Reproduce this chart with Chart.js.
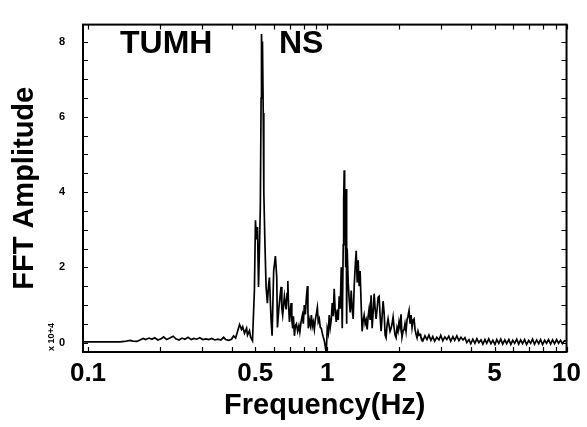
<!DOCTYPE html>
<html>
<head>
<meta charset="utf-8">
<script src="https://cdn.jsdelivr.net/npm/chart.js@4"></script>
<style>
  html, body { margin: 0; padding: 0; background: #fff; }
  #wrap { width: 587px; height: 427px; }
</style>
</head>
<body>
<div id="wrap"><canvas id="fftChart"></canvas></div>
<script>
// frecuencias (Hz) y amplitud FFT (x 10^4)
const freqHz = [
  0.096, 0.102, 0.112, 0.124, 0.136, 0.142, 0.150, 0.154, 0.160, 0.165,
  0.170, 0.174, 0.180, 0.185, 0.190, 0.196, 0.202, 0.207, 0.213, 0.220,
  0.227, 0.233, 0.240, 0.247, 0.254, 0.262, 0.270, 0.277, 0.285, 0.293,
  0.302, 0.311, 0.320, 0.329, 0.339, 0.349, 0.359, 0.369, 0.376, 0.387,
  0.398, 0.406, 0.414, 0.422, 0.430, 0.438, 0.443, 0.451, 0.460, 0.464,
  0.473, 0.478, 0.487, 0.496, 0.501, 0.506, 0.511, 0.516, 0.521, 0.525,
  0.529, 0.531, 0.534, 0.536, 0.540, 0.543, 0.549, 0.555, 0.562, 0.568,
  0.573, 0.579, 0.582, 0.588, 0.597, 0.607, 0.615, 0.619, 0.627, 0.634,
  0.641, 0.646, 0.651, 0.662, 0.673, 0.679, 0.684, 0.689, 0.695, 0.702,
  0.706, 0.711, 0.717, 0.722, 0.729, 0.736, 0.743, 0.752, 0.761, 0.768,
  0.777, 0.787, 0.794, 0.802, 0.810, 0.818, 0.826, 0.830, 0.833, 0.841,
  0.850, 0.858, 0.866, 0.874, 0.883, 0.891, 0.900, 0.909, 0.917, 0.926,
  0.935, 0.944, 0.953, 0.962, 0.972, 0.981, 0.990, 1.000, 1.010, 1.019,
  1.029, 1.039, 1.049, 1.059, 1.069, 1.080, 1.090, 1.101, 1.111, 1.122,
  1.133, 1.144, 1.155, 1.166, 1.171, 1.177, 1.182, 1.188, 1.194, 1.200,
  1.205, 1.211, 1.223, 1.235, 1.247, 1.259, 1.271, 1.283, 1.296, 1.308,
  1.321, 1.334, 1.346, 1.359, 1.372, 1.386, 1.399, 1.413, 1.426, 1.440,
  1.454, 1.468, 1.482, 1.496, 1.511, 1.525, 1.540, 1.555, 1.570, 1.585,
  1.600, 1.616, 1.631, 1.647, 1.663, 1.679, 1.695, 1.711, 1.728, 1.745,
  1.761, 1.778, 1.795, 1.813, 1.830, 1.848, 1.866, 1.884, 1.902, 1.920,
  1.939, 1.957, 1.976, 1.995, 2.014, 2.034, 2.053, 2.073, 2.094, 2.113,
  2.134, 2.154, 2.175, 2.197, 2.218, 2.239, 2.261, 2.283, 2.305, 2.327,
  2.350, 2.372, 2.395, 2.418, 2.441, 2.46, 2.51, 2.56, 2.61, 2.66,
  2.71, 2.76, 2.81, 2.87, 2.93, 2.98, 3.04, 3.10, 3.16, 3.22,
  3.28, 3.35, 3.41, 3.48, 3.55, 3.62, 3.69, 3.76, 3.83, 3.91,
  3.98, 4.06, 4.14, 4.22, 4.30, 4.39, 4.47, 4.56, 4.64, 4.73,
  4.83, 4.92, 5.02, 5.11, 5.21, 5.31, 5.41, 5.52, 5.62, 5.74,
  5.85, 5.96, 6.07, 6.19, 6.31, 6.43, 6.55, 6.68, 6.81, 6.95,
  7.08, 7.21, 7.35, 7.50, 7.65, 7.79, 7.94, 8.10, 8.25, 8.41,
  8.58, 8.74, 8.91, 9.09, 9.26, 9.44, 9.62, 9.80, 10.0
];
const fftAmp = [
  0.02, 0.02, 0.02, 0.02, 0.02, 0.03, 0.06, 0.04, 0.03, 0.07,
  0.11, 0.08, 0.12, 0.09, 0.13, 0.07, 0.10, 0.15, 0.08, 0.12,
  0.17, 0.10, 0.07, 0.12, 0.09, 0.14, 0.08, 0.11, 0.09, 0.13,
  0.08, 0.10, 0.08, 0.11, 0.07, 0.09, 0.07, 0.14, 0.08, 0.06,
  0.09, 0.18, 0.12, 0.30, 0.48, 0.35, 0.42, 0.25, 0.38, 0.20,
  0.32, 0.15, 0.05, 1.40, 3.25, 2.74, 3.07, 1.48, 2.60, 3.57,
  6.50, 8.20, 7.60, 8.00, 6.10, 4.00, 2.60, 1.48, 1.05, 1.50,
  1.73, 1.00, 0.63, 0.18, 1.90, 2.30, 1.73, 0.40, 0.88, 1.20,
  1.48, 0.90, 0.73, 1.23, 0.88, 1.30, 1.64, 1.00, 0.55, 0.90,
  1.05, 0.60, 0.38, 0.70, 0.18, 0.45, 0.50, 0.30, 0.45, 0.28,
  0.55, 0.73, 0.50, 1.00, 0.75, 1.20, 1.50, 0.90, 0.38, 0.60,
  0.45, 0.73, 0.43, 0.55, 0.35, 0.60, 0.75, 0.93, 0.55, 0.63,
  0.40, 0.38, 0.25, 0.15, 0.05, -0.10, -0.28, 0.38, 0.25, 0.73,
  0.40, 0.60, 1.05, 0.70, 1.43, 0.80, 0.55, 0.88, 0.60, 1.23,
  0.90, 2.00, 0.38, 2.60, 3.80, 4.58, 3.90, 3.40, 2.00, 4.08,
  0.50, 2.50, 1.60, 1.13, 0.80, 1.38, 0.90, 0.63, 1.50, 2.00,
  2.44, 1.60, 2.19, 1.50, 1.90, 0.98, 0.30, 0.60, 0.73, 0.50,
  0.60, 0.35, 0.70, 0.90, 0.60, 1.26, 0.38, 0.80, 1.30, 0.90,
  0.63, 0.90, 1.20, 1.23, 0.70, 0.30, 0.70, 1.10, 0.80, 0.20,
  0.13, 0.47, 0.63, 0.45, 0.30, 0.38, 0.50, 0.68, 0.40, 0.20,
  0.13, 0.40, 0.30, 0.55, 0.40, 0.75, 0.15, 0.30, 0.35, 0.50,
  0.30, 0.60, 0.70, 0.85, 0.50, 0.73, 0.40, 0.60, 0.63, 0.35,
  0.22, 0.13, 0.30, 0.20, 0.22, 0.15, 0.05, 0.18, 0.08, 0.20,
  0.06, 0.16, 0.04, 0.14, 0.07, 0.19, 0.05, 0.15, 0.08, 0.17,
  0.04, 0.16, 0.06, 0.18, 0.05, 0.14, 0.07, 0.13, 0.00, 0.08,
  -0.03, 0.09, -0.02, 0.10, 0.00, 0.07, -0.04, 0.08, -0.02, 0.10,
  -0.03, 0.06, -0.05, 0.08, -0.02, 0.09, -0.04, 0.07, -0.03, 0.08,
  -0.05, 0.06, -0.02, 0.09, -0.04, 0.07, -0.03, 0.08, -0.05, 0.06,
  -0.02, 0.09, -0.04, 0.07, -0.03, 0.08, -0.05, 0.06, -0.02, 0.08,
  -0.04, 0.07, -0.03, 0.08, -0.02, 0.06, -0.03, 0.05, 0.04
];

// marcas de los ejes
const xTicks = [0.1, 0.2, 0.3, 0.4, 0.5, 0.6, 0.7, 0.8, 0.9, 1, 2, 3, 4, 5, 6, 7, 8, 9, 10];
const xTickLabels = [0.1, 0.5, 1, 2, 5, 10];
const yTicks = [0, 0.5, 1, 1.5, 2, 2.5, 3, 3.5, 4, 4.5, 5, 5.5, 6, 6.5, 7, 7.5, 8];
const yTickLabels = [0, 2, 4, 6, 8];

const fuente = '"Liberation Sans", Arial, Helvetica, sans-serif';

// marco, marcas hacia adentro y textos sueltos
const marcoPlugin = {
  id: 'marco',
  afterDraw(chart) {
    const ctx = chart.ctx;
    const a = chart.chartArea;
    const sx = chart.scales.x;
    const sy = chart.scales.y;
    ctx.save();
    ctx.strokeStyle = '#000';
    ctx.lineWidth = 1.2;
    xTicks.forEach((v) => {
      const px = Math.round(sx.getPixelForValue(v)) + 0.5;
      ctx.beginPath();
      ctx.moveTo(px, a.bottom); ctx.lineTo(px, a.bottom - 5);
      ctx.moveTo(px, a.top); ctx.lineTo(px, a.top + 5);
      ctx.stroke();
    });
    yTicks.forEach((v) => {
      const py = Math.round(sy.getPixelForValue(v)) + 0.5;
      ctx.beginPath();
      ctx.moveTo(a.left, py); ctx.lineTo(a.left + 5, py);
      ctx.moveTo(a.right, py); ctx.lineTo(a.right - 5, py);
      ctx.stroke();
    });
    ctx.lineWidth = 2;
    ctx.strokeRect(a.left, a.top, a.right - a.left, a.bottom - a.top);

    ctx.fillStyle = '#000';
    ctx.textBaseline = 'alphabetic';
    ctx.textAlign = 'left';
    ctx.font = 'bold 32px ' + fuente;
    ctx.fillText('TUMH', 120, 53);
    ctx.fillText('NS', 279, 53);

    ctx.translate(52, 337);
    ctx.rotate(-Math.PI / 2);
    ctx.textAlign = 'center';
    ctx.textBaseline = 'middle';
    ctx.font = 'bold 9px ' + fuente;
    ctx.fillText('x 10+4', 0, 0);
    ctx.restore();
  }
};

new Chart(document.getElementById('fftChart'), {
  type: 'scatter',
  data: {
    datasets: [
      {
        label: 'NS',
        data: freqHz.map((f, i) => ({ x: f, y: fftAmp[i] })),
        showLine: true,
        borderColor: '#000',
        borderWidth: 1.7,
        pointRadius: 0,
        tension: 0,
        fill: false,
      },
    ],
  },
  options: {
    responsive: true,
    maintainAspectRatio: false,
    animation: false,
    layout: { padding: { top: 6, right: 19, left: 0, bottom: 0 } },
    plugins: {
      legend: { display: false },
      tooltip: { enabled: false },
    },
    scales: {
      x: {
        type: 'logarithmic',
        min: 0.0953,
        max: 10,
        afterBuildTicks: (s) => { s.ticks = xTicks.map((v) => ({ value: v })); },
        afterFit: (s) => { s.height = 75; },
        grid: { display: false, drawTicks: false },
        border: { display: false },
        ticks: {
          autoSkip: false,
          maxRotation: 0,
          padding: 6,
          color: '#000',
          font: { family: fuente, size: 26, weight: 'bold' },
          callback: (v) => (xTickLabels.includes(v) ? String(v) : ''),
        },
        title: {
          display: true,
          text: 'Frequency(Hz)',
          color: '#000',
          font: { family: fuente, size: 29, weight: 'bold' },
          padding: { top: 0, bottom: 4 },
        },
      },
      y: {
        type: 'linear',
        min: -0.25,
        max: 8.45,
        afterBuildTicks: (s) => { s.ticks = yTicks.map((v) => ({ value: v })); },
        afterFit: (s) => { s.width = 83; },
        grid: { display: false, drawTicks: false },
        border: { display: false },
        ticks: {
          autoSkip: false,
          padding: 18,
          color: '#000',
          font: { family: fuente, size: 11, weight: 'bold' },
          callback: (v) => (yTickLabels.includes(v) ? String(v) : ''),
        },
        title: {
          display: true,
          text: 'FFT Amplitude',
          color: '#000',
          font: { family: fuente, size: 29, weight: 'bold' },
          padding: { top: 8, bottom: 0 },
        },
      },
    },
  },
  plugins: [marcoPlugin],
});
</script>
</body>
</html>
